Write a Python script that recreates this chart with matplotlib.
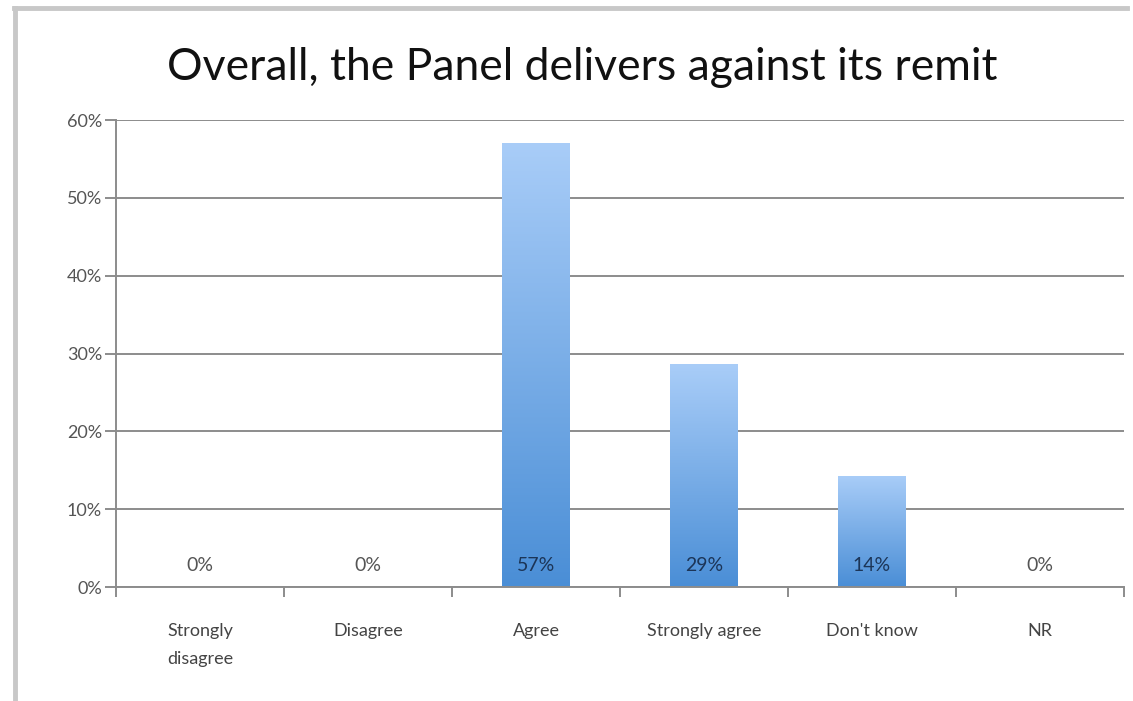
import numpy as np
import matplotlib
matplotlib.use("Agg")
import matplotlib.pyplot as plt
from matplotlib.colors import LinearSegmentedColormap
from matplotlib.lines import Line2D

# ------------------------------
# DATA
# ------------------------------
categories = ["Strongly\ndisagree", "Disagree", "Agree", "Strongly agree", "Don't know", "NR"]
values = [0, 0, 57.1, 28.6, 14.3, 0]
value_labels = ["0%", "0%", "57%", "29%", "14%", "0%"]
y_ticks = [0, 10, 20, 30, 40, 50, 60]
title = "Overall, the Panel delivers against its remit"

plt.rcParams['font.family'] = ['Lato', 'DejaVu Sans']

fig = plt.figure(figsize=(11.33, 7.01), dpi=100)
ax = fig.add_axes([0.1024, 0.1626, 0.8896, 0.6662])

# --- gradient bars ---
cmap = LinearSegmentedColormap.from_list("bar", ["#4a8ed6", "#a9cdf8"])
grad = np.linspace(0, 1, 256).reshape(-1, 1)
x = np.arange(len(categories))
bars = ax.bar(x, values, width=0.4, color="none", edgecolor="none")
for b in bars:
    h = b.get_height()
    if h <= 0:
        continue
    x0 = b.get_x()
    w = b.get_width()
    im = ax.imshow(grad, extent=[x0, x0 + w, 0, h], origin="lower", cmap=cmap,
                   aspect="auto", zorder=2)
    im.set_clip_path(b)

# --- value labels ---
for xi, v, lab in zip(x, values, value_labels):
    col = "#1c3557" if v > 0 else "#555555"
    ax.text(xi, 2.8, lab, ha="center", va="center", fontsize=14, color=col, zorder=3)

ax.set_xlim(-0.5, len(categories) - 0.5)
ax.set_ylim(0, 60)
ax.set_yticks(y_ticks)
ax.set_yticklabels([f"{t}%" for t in y_ticks], fontsize=13, color="#555555")
ax.yaxis.grid(True, color="#8c8c8c", linewidth=1.4)
ax.set_axisbelow(True)

ax.set_xticks(x)
ax.set_xticklabels(categories, fontsize=13, color="#444444", linespacing=1.95, va="top")
ax.tick_params(axis="x", length=0, pad=26)
ax.set_xticks(np.arange(-0.5, len(categories)), minor=True)
ax.tick_params(axis="x", which="minor", length=7, color="#8c8c8c", width=1.4, direction="out")
ax.tick_params(axis="y", length=8, color="#8c8c8c", width=1.4, pad=2)

for s in ["top", "right"]:
    ax.spines[s].set_visible(False)
for s in ["left", "bottom"]:
    ax.spines[s].set_color("#8c8c8c")
    ax.spines[s].set_linewidth(1.4)

fig.text(0.514, 0.903, title, ha="center", va="center", fontsize=32, color="#111111")

# --- outer frame (top and left edges) ---
fig.add_artist(Line2D([14 / 1133, 1127 / 1133], [1 - 8 / 701, 1 - 8 / 701], color="#c8c8c8", linewidth=3.5,
                      transform=fig.transFigure))
fig.add_artist(Line2D([15 / 1133, 15 / 1133], [0, 1 - 8 / 701], color="#c8c8c8", linewidth=3.5,
                      transform=fig.transFigure))

fig.savefig("out.png", dpi=100)
